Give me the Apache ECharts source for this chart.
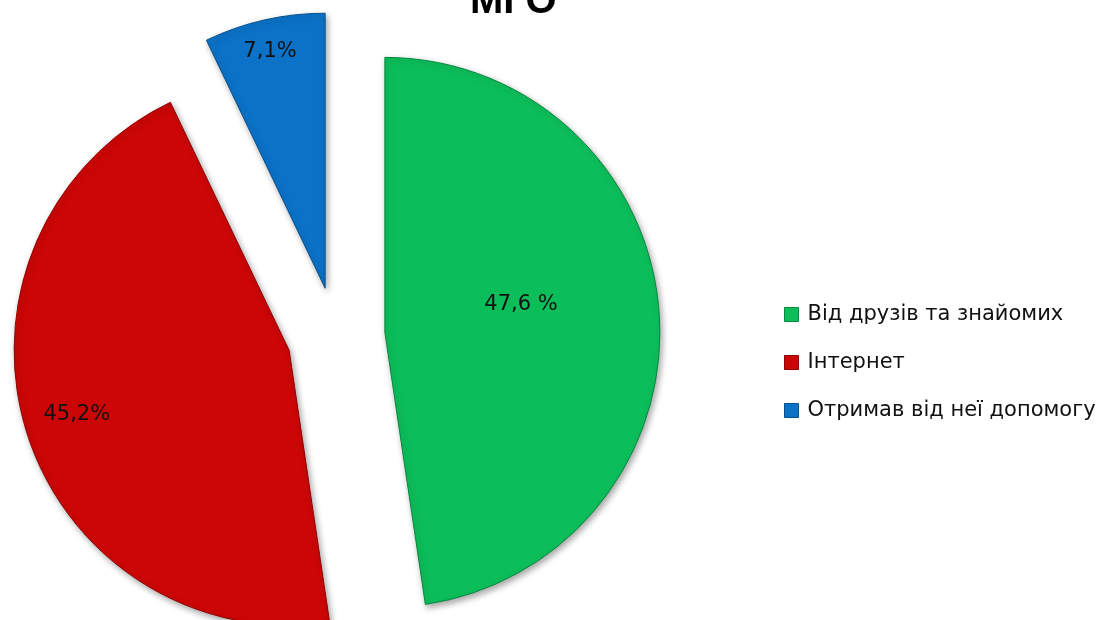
<!DOCTYPE html>
<html>
<head>
<meta charset="utf-8">
<script src="https://cdn.jsdelivr.net/npm/echarts@6/dist/echarts.min.js"></script>
<style>
  html, body { margin: 0; padding: 0; background: #fff; }
  #chart { width: 1107px; height: 620px; }
</style>
</head>
<body>
<div id="chart"></div>
<script>
// -- Data --
const categories = ['Від друзів та знайомих', 'Інтернет', 'Отримав від неї допомогу'];
const shares = [47.6, 45.2, 7.1];
const shareLabels = ['47,6 %', '45,2%', '7,1%'];

// -- Colors (Office-style green / red / blue) --
const COLORS = ['#0cbe5a', '#cc0606', '#0b72c8'];
const EDGE = ['#07873f', '#8e0404', '#07508c'];

// nudges for the in-slice labels, per slice
const LABEL_NUDGE = [[-4, -17], [-78, 23], [-24, -100]];

const chart = echarts.init(document.getElementById('chart'), null, { renderer: 'canvas' });

const pieData = categories.map((name, i) => ({
  name,
  value: shares[i],
  selected: true,
  itemStyle: {
    color: COLORS[i],
    borderColor: EDGE[i],
    borderWidth: 1,
    shadowColor: 'rgba(0,0,0,0.35)',
    shadowBlur: 6,
    shadowOffsetX: 2,
    shadowOffsetY: 3
  },
  select: { itemStyle: { color: COLORS[i], borderColor: EDGE[i], borderWidth: 1 } },
  label: { formatter: shareLabels[i] }
}));

chart.setOption({
  animation: false,
  backgroundColor: '#fff',
  title: {
    text: 'МГО',
    left: 470,
    top: -18,
    padding: 0,
    textStyle: { fontFamily: 'Liberation Sans', fontSize: 40, fontWeight: 'bold', color: '#000' }
  },
  legend: {
    orient: 'vertical',
    left: 779,
    top: 299,
    itemGap: 27,
    itemWidth: 14,
    itemHeight: 14,
    icon: 'rect',
    selectedMode: false,
    textStyle: { fontFamily: 'DejaVu Sans', fontSize: 21, color: '#111', padding: [0, 0, 0, 4] },
    data: categories.map((name, i) => ({
      name,
      itemStyle: { color: COLORS[i], borderColor: EDGE[i], borderWidth: 1 }
    }))
  },
  series: [{
    type: 'pie',
    center: [336, 336],
    radius: [0, 275],
    startAngle: 90,
    clockwise: true,
    selectedMode: 'multiple',
    selectedOffset: 49,
    avoidLabelOverlap: false,
    emphasis: { disabled: true },
    label: {
      show: true,
      position: 'inside',
      fontFamily: 'DejaVu Sans',
      fontSize: 21,
      color: '#111'
    },
    labelLine: { show: false },
    labelLayout: params => ({ dx: LABEL_NUDGE[params.dataIndex][0], dy: LABEL_NUDGE[params.dataIndex][1] }),
    data: pieData
  }]
});

window.addEventListener('resize', () => chart.resize());
</script>
</body>
</html>
